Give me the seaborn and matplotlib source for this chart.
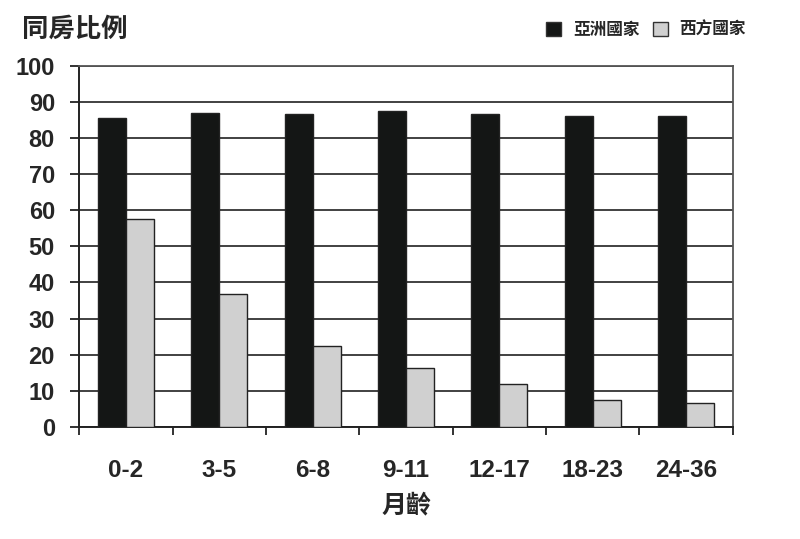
import numpy as np
import pandas as pd
import seaborn as sns
import matplotlib.pyplot as plt
from matplotlib.ticker import FixedLocator
from matplotlib.patches import Patch

# 月齡分組與同房比例 (%)
age_groups = ["0-2", "3-5", "6-8", "9-11", "12-17", "18-23", "24-36"]
asia = [85.6, 87.0, 86.6, 87.5, 86.6, 86.1, 86.1]
west = [57.6, 36.8, 22.4, 16.2, 11.8, 7.5, 6.7]
series_names = ["亞洲國家", "西方國家"]
yticks = list(range(0, 101, 10))

df = pd.DataFrame({
    "age": age_groups * 2,
    "pct": asia + west,
    "region": [series_names[0]] * len(age_groups) + [series_names[1]] * len(age_groups),
})

sns.set_style("white")
plt.rcParams["font.family"] = ["Liberation Sans", "Noto Sans CJK TC", "DejaVu Sans"]
plt.rcParams["font.weight"] = "bold"

colors = {"亞洲國家": "#141615", "西方國家": "#d0d0d0"}

fig = plt.figure(figsize=(8, 5.39), dpi=100)
ax = fig.add_axes([0.099, 0.208, 0.817, 0.670])

sns.barplot(data=df, x="age", y="pct", hue="region", palette=colors,
            width=0.6, edgecolor="#222222", linewidth=1.0, ax=ax,
            legend=False, zorder=3)

ax.set_ylim(0, 100)
ax.set_xlim(-0.5, len(age_groups) - 0.5)
ax.set_yticks(yticks)
ax.set_yticklabels([str(v) for v in yticks], fontsize=17, fontweight="bold")
ax.set_xticks(range(len(age_groups)))
ax.set_xticklabels(age_groups, fontsize=17.5, fontweight="bold")
ax.xaxis.set_minor_locator(FixedLocator(np.arange(-0.5, len(age_groups), 1.0)))
ax.tick_params(axis="x", which="major", bottom=True, length=0, pad=23)
ax.tick_params(axis="x", which="minor", bottom=True, length=6, width=1.3,
               color="#222222", direction="out")
ax.tick_params(axis="y", left=True, length=6.5, width=1.3, color="#222222",
               direction="out", pad=11)

ax.yaxis.grid(True, color="#333333", linewidth=1.3, zorder=0)
ax.set_axisbelow(True)
for side in ["left", "bottom"]:
    ax.spines[side].set_color("#222222")
    ax.spines[side].set_linewidth(1.4)
for side in ["top", "right"]:
    ax.spines[side].set_color("#555555")
    ax.spines[side].set_linewidth(1.3)

ax.set_ylabel("")
ax.set_xlabel("月齡", fontsize=18, fontweight="bold", labelpad=8)
fig.text(0.028, 0.945, "同房比例", fontsize=19, fontweight="bold", va="center", ha="left")

handles = [Patch(facecolor=colors[n], edgecolor="#333333", linewidth=1.0) for n in series_names]
fig.legend(handles, series_names, loc="center right", bbox_to_anchor=(0.951, 0.945),
           ncol=2, frameon=False, handlelength=0.9, handleheight=0.9,
           handletextpad=0.7, columnspacing=0.8,
           prop={"size": 12, "weight": "bold", "family": ["Noto Sans CJK TC"]})

fig.savefig("out.png", dpi=100)
